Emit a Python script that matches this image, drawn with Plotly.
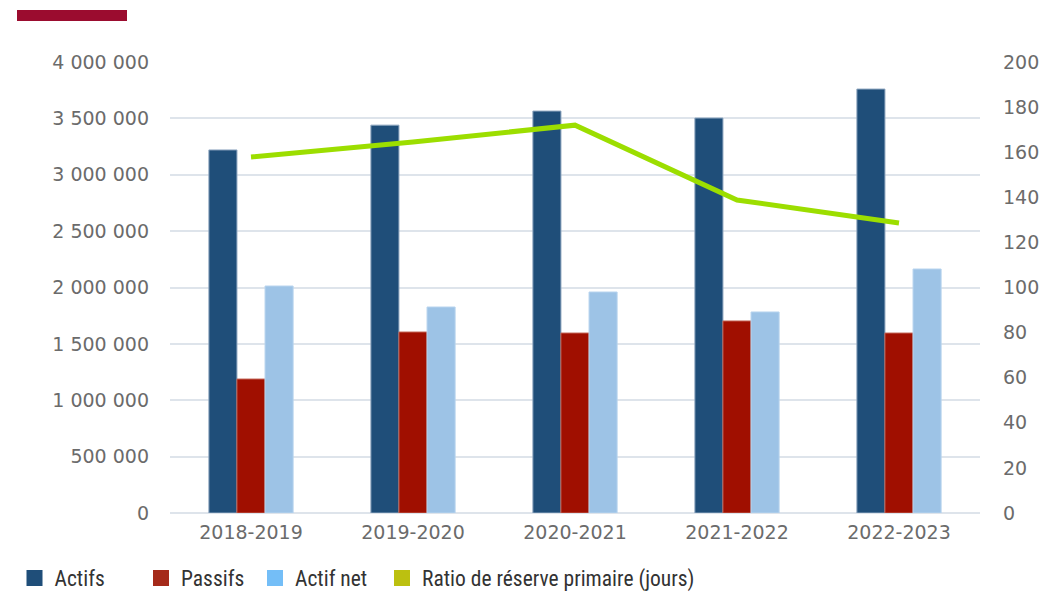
import plotly.graph_objects as go

categories = ["2018-2019", "2019-2020", "2020-2021", "2021-2022", "2022-2023"]
actifs = [3220000, 3440000, 3565000, 3503000, 3760000]
passifs = [1188000, 1605000, 1596000, 1703000, 1596000]
actif_net = [2013000, 1827000, 1960000, 1783000, 2164000]
ratio = [157.9, 164.5, 172.0, 138.8, 128.6]

left_ticks = [0, 500000, 1000000, 1500000, 2000000, 2500000, 3000000, 3500000, 4000000]
right_ticks = [0, 20, 40, 60, 80, 100, 120, 140, 160, 180, 200]

legend_names = ["Actifs", "Passifs", "Actif net", "Ratio de réserve primaire (jours)"]
legend_colors = ["#1F4E79", "#A52A1A", "#74BEF7", "#BCC010"]

tick_font = dict(family="DejaVu Sans", size=19, color="#6b6b6b")
legend_font = dict(family="Liberation Sans Narrow, Roboto Condensed, Roboto", size=21.5, color="#333333")

W, H = 1041, 585
L, T, PW, PH = 162, 54, 810, 451
legend_left_px = [6.5, 133, 247, 374]   # legend box left edges (figure px)

fig = go.Figure()
fig.add_trace(go.Bar(x=categories, y=actifs, name="Actifs", marker=dict(color="#1F4E79", line=dict(color="#8FA7C0", width=1)), showlegend=False))
fig.add_trace(go.Bar(x=categories, y=passifs, name="Passifs", marker=dict(color="#A00F00", line=dict(color="#C06050", width=1)), showlegend=False))
fig.add_trace(go.Bar(x=categories, y=actif_net, name="Actif net", marker=dict(color="#9DC3E6", line=dict(color="#B8D4EE", width=1)), showlegend=False))
fig.add_trace(go.Scatter(x=categories, y=ratio, name="Ratio de réserve primaire (jours)", yaxis="y2", mode="lines",
                         line=dict(color="#9CDE00", width=5), showlegend=False))

legend_ids = ["legend", "legend2", "legend3", "legend4"]
layout_legends = {}
for i, (name, col) in enumerate(zip(legend_names, legend_colors)):
    fig.add_trace(go.Scatter(x=[None], y=[None], mode="markers", name=name, legend=legend_ids[i],
                             marker=dict(symbol="square", size=17, color=col), showlegend=True))
    layout_legends[legend_ids[i]] = dict(orientation="h", x=(legend_left_px[i] - L) / PW, xanchor="left",
                                         yref="container", y=(H - 570) / H, yanchor="middle",
                                         font=legend_font, itemsizing="trace", bgcolor="rgba(0,0,0,0)")

fig.update_layout(
    width=W, height=H,
    margin=dict(l=L, r=W - L - PW, t=T, b=H - T - PH, autoexpand=False),
    paper_bgcolor="white", plot_bgcolor="white",
    separators=", ",
    barmode="group", bargap=0.48, bargroupgap=0,
    xaxis=dict(type="category", tickfont=tick_font, showgrid=False, showline=False, ticks="", ticklabelstandoff=6),
    yaxis=dict(range=[0, 4000000], tickvals=left_ticks, tickformat=",d", tickfont=tick_font,
               showgrid=True, gridcolor="#DEE4EB", gridwidth=1.5, zeroline=True, zerolinecolor="#DEE4EB", zerolinewidth=1.5,
               ticklabelstandoff=20),
    yaxis2=dict(range=[0, 200], tickvals=right_ticks, overlaying="y", side="right", tickfont=tick_font,
                showgrid=False, zeroline=False, ticklabelstandoff=22),
    shapes=[dict(type="rect", xref="paper", yref="paper", x0=(9 - L) / PW, x1=(119 - L) / PW,
                 y0=(T + PH - 13) / PH, y1=(T + PH - 2) / PH, fillcolor="#9B0C2F", line=dict(width=0))],
    **layout_legends,
)

fig.write_html("out.html")
